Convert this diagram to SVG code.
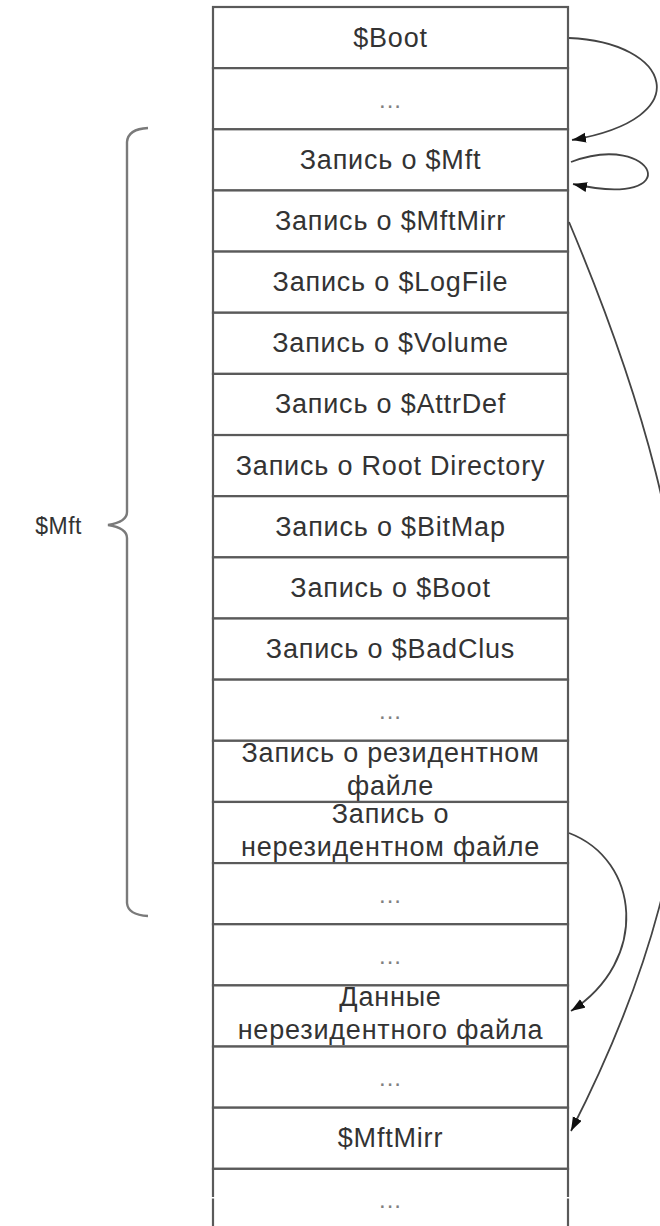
<svg xmlns="http://www.w3.org/2000/svg" width="660" height="1226" viewBox="0 0 660 1226">
<defs>
<style>
.cell{fill:#ffffff;stroke:#5a5a5a;stroke-width:2.2}
.t{font-family:"Liberation Sans","Open Sans","DejaVu Sans",sans-serif;font-size:27px;letter-spacing:0.8px;fill:#333333;text-anchor:middle}
.d{font-family:"Liberation Sans","Open Sans","DejaVu Sans",sans-serif;font-size:24px;letter-spacing:1px;fill:#808080;text-anchor:middle}
.lbl{font-family:"Liberation Sans","Open Sans","DejaVu Sans",sans-serif;font-size:23px;letter-spacing:0.5px;fill:#333333;text-anchor:end}
.arr{fill:none;stroke:#444;stroke-width:1.8;marker-end:url(#ah)}
.brace{fill:none;stroke:#7a7a7a;stroke-width:2.4}
</style>
<marker id="ah" markerUnits="userSpaceOnUse" markerWidth="16" markerHeight="12" refX="14" refY="5" orient="auto">
<path d="M0,0 L14,5 L0,10 z" fill="#111"/>
</marker>
</defs>
<rect width="660" height="1226" fill="#ffffff"/>

<g id="r0"><rect class="cell" x="213" y="7" width="355" height="61.15"/><text class="t" x="390.5" y="46.5">$Boot</text></g>
<g id="r1"><rect class="cell" x="213" y="68.15" width="355" height="61.15"/><text class="d" x="390.5" y="107.6">...</text></g>
<g id="r2"><rect class="cell" x="213" y="129.3" width="355" height="61.15"/><text class="t" x="390.5" y="168.8">Запись о $Mft</text></g>
<g id="r3"><rect class="cell" x="213" y="190.45" width="355" height="61.15"/><text class="t" x="390.5" y="229.9">Запись о $MftMirr</text></g>
<g id="r4"><rect class="cell" x="213" y="251.6" width="355" height="61.15"/><text class="t" x="390.5" y="291.1">Запись о $LogFile</text></g>
<g id="r5"><rect class="cell" x="213" y="312.75" width="355" height="61.15"/><text class="t" x="390.5" y="352.2">Запись о $Volume</text></g>
<g id="r6"><rect class="cell" x="213" y="373.9" width="355" height="61.15"/><text class="t" x="390.5" y="413.4">Запись о $AttrDef</text></g>
<g id="r7"><rect class="cell" x="213" y="435.05" width="355" height="61.15"/><text class="t" x="390.5" y="474.5">Запись о Root Directory</text></g>
<g id="r8"><rect class="cell" x="213" y="496.2" width="355" height="61.15"/><text class="t" x="390.5" y="535.7">Запись о $BitMap</text></g>
<g id="r9"><rect class="cell" x="213" y="557.35" width="355" height="61.15"/><text class="t" x="390.5" y="596.8">Запись о $Boot</text></g>
<g id="r10"><rect class="cell" x="213" y="618.5" width="355" height="61.15"/><text class="t" x="390.5" y="658">Запись о $BadClus</text></g>
<g id="r11"><rect class="cell" x="213" y="679.65" width="355" height="61.15"/><text class="d" x="390.5" y="719.1">...</text></g>
<g id="r12"><rect class="cell" x="213" y="740.8" width="355" height="61.15"/><text class="t" x="390.5" y="762">Запись о резидентном</text><text class="t" x="390.5" y="794.5">файле</text></g>
<g id="r13"><rect class="cell" x="213" y="801.95" width="355" height="61.15"/><text class="t" x="390.5" y="823">Запись о</text><text class="t" x="390.5" y="855.5">нерезидентном файле</text></g>
<g id="r14"><rect class="cell" x="213" y="863.1" width="355" height="61.15"/><text class="d" x="390.5" y="902.6">...</text></g>
<g id="r15"><rect class="cell" x="213" y="924.25" width="355" height="61.15"/><text class="d" x="390.5" y="963.7">...</text></g>
<g id="r16"><rect class="cell" x="213" y="985.4" width="355" height="61.15"/><text class="t" x="390.5" y="1006">Данные</text><text class="t" x="390.5" y="1038.5">нерезидентного файла</text></g>
<g id="r17"><rect class="cell" x="213" y="1046.55" width="355" height="61.15"/><text class="d" x="390.5" y="1086">...</text></g>
<g id="r18"><rect class="cell" x="213" y="1107.7" width="355" height="61.15"/><text class="t" x="390.5" y="1147.2">$MftMirr</text></g>
<g id="r19"><rect class="cell" x="213" y="1168.85" width="355" height="61.15"/><text class="d" x="390.5" y="1208.3">...</text></g>

<g id="mft-brace">
<path class="brace" d="M148,128 Q128,129 127,142 L127,512 Q127,522 108,525 Q127,528 127,538 L127,903 Q128,915 148,916"/>
<text class="lbl" x="82" y="534">$Mft</text>
</g>

<g id="connectors">
<path class="arr" d="M569,38 C670,42 700,118 572,140"/>
<path class="arr" d="M571,162 C655,130 690,210 573,184"/>
<path class="arr" d="M569,222 C720,580 730,820 571,1131"/>
<path class="arr" d="M569,833 C640,860 650,960 571,1011"/>
</g>

<g id="artifacts">
<rect x="206" y="1197" width="10" height="1.5" fill="#ffffff"/>
<rect x="565" y="1197" width="8" height="1.5" fill="#ffffff"/>
</g>
</svg>
